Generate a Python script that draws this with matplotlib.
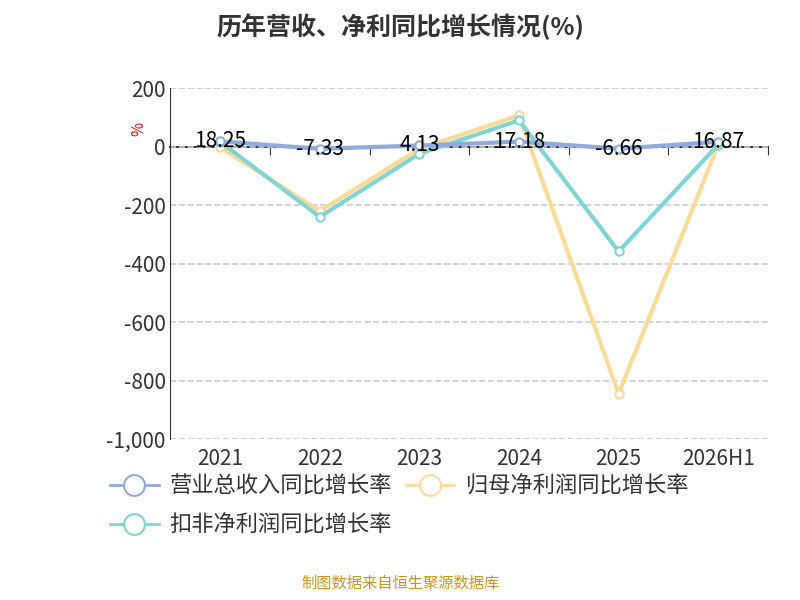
import matplotlib
matplotlib.use("Agg")
import matplotlib.pyplot as plt
from matplotlib.ticker import FuncFormatter
from matplotlib.lines import Line2D

plt.rcParams['font.family'] = ['Noto Sans CJK SC', 'DejaVu Sans']

years = ['2021', '2022', '2023', '2024', '2025', '2026H1']
revenue = [18.25, -7.33, 4.13, 17.18, -6.66, 16.87]
net_profit = [-2, -220, -7, 107, -845, 7]
deducted = [17, -240, -24, 90, -358, 7]

fig = plt.figure(figsize=(8, 6), dpi=100)
ax = fig.add_axes([0.213, 0.268, 0.747, 0.585])
x = list(range(len(years)))
kw = dict(lw=3, marker='o', ms=6, markerfacecolor='white', markeredgewidth=1.5)
c_rev, c_net, c_ded = '#8faadc', '#ffd998', '#7fd4d6'
ax.plot(x, revenue, color=c_rev, zorder=3, **kw)
ax.plot(x, net_profit, color=c_net, zorder=2, **kw)
ax.plot(x, deducted, color=c_ded, zorder=2.5, **kw)
for xi, v in zip(x, revenue):
    ax.text(xi, v, f'{v:.2f}', ha='center', va='center', fontsize=15, color='black', zorder=5)

ax.set_xlim(-0.5, 5.5)
ax.set_ylim(-1000, 200)
ax.set_yticks([t for t in range(-1000, 201, 200) if t != 0] + [0])
ax.yaxis.set_major_formatter(FuncFormatter(lambda v, p: f'{int(v):,}'))
ax.set_yticks(range(-1000, 201, 200))
ax.grid(axis='y', ls='--', color='#cccccc', lw=1.2)
for s in ['top', 'right']:
    ax.spines[s].set_visible(False)
ax.spines['bottom'].set_position(('data', 0))
ax.spines['bottom'].set_color('#333333')
ax.spines['bottom'].set_linewidth(1.5)
ax.spines['bottom'].set_zorder(1)
ax.spines['left'].set_color('#333333')
ax.set_xticks([i + 0.5 for i in range(-1, 6)])
ax.set_xticklabels([])
ax.tick_params(axis='x', length=6, color='#333333', direction='out')
ax.tick_params(axis='y', labelsize=15, length=0, labelcolor='#333333')
for xi, y in zip(x, years):
    ax.text(xi, -1030, y, ha='center', va='top', fontsize=15, color='#333333')
ax.text(-0.82, 60, '%', color='red', fontsize=11, rotation=90, ha='center', va='center')

fig.text(0.5, 0.955, '历年营收、净利同比增长情况(%)', fontsize=18, fontweight='bold', ha='center', va='center', color='#333333')

def h(c):
    return Line2D([], [], color=c, lw=2, marker='o', ms=15, markerfacecolor='white', markeredgewidth=1.5)
handles = [h(c_rev), h(c_ded), h(c_net)]
labels = ['营业总收入同比增长率', '扣非净利润同比增长率', '归母净利润同比增长率']
ax.legend(handles, labels, loc='upper left', bbox_to_anchor=(-0.135, -0.045), ncol=2, fontsize=16, frameon=False,
          handlelength=2.2, columnspacing=0.6, labelspacing=0.7, handletextpad=0.5, labelcolor='#333333')
fig.text(0.5, 0.02, '制图数据来自恒生聚源数据库', ha='center', fontsize=11, color='#c8961e')
fig.savefig('out.png')
